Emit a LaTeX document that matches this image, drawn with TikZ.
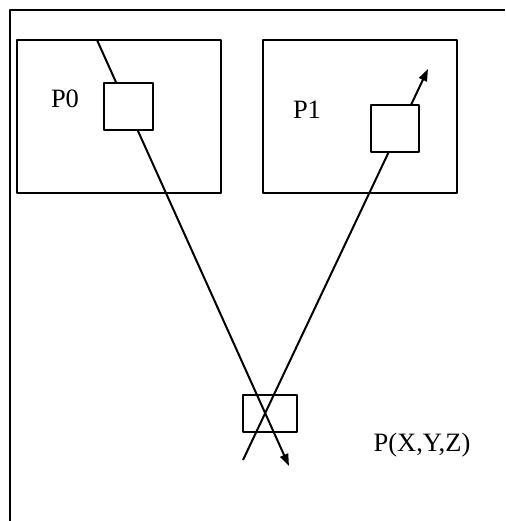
\documentclass[tikz,border=0pt]{standalone}
\usepackage{fontspec}
\setmainfont{Liberation Serif}
\usepackage{tikz}
\usetikzlibrary{arrows.meta}

\begin{document}
\begin{tikzpicture}[x=1pt,y=-1pt,>={Triangle[length=12pt,width=8.5pt]},line join=round,
  frame/.style={draw,line width=1.3pt,inner sep=0pt,outer sep=0pt},
  pixbox/.style={frame,fill=white},
  ray/.style={->,line width=2pt},
  lbl/.style={inner sep=0pt,font=\fontsize{26.5}{30}\selectfont}]
  \useasboundingbox (0,0) rectangle (505,521);
  % outer border, only left and top visible
  \coordinate (BL) at (10,521);
  \coordinate (TL) at (10,10);
  \coordinate (TR) at (505,10);
  \draw[line width=2pt] (BL) -- (TL) -- (TR);
  % image planes
  \node[frame,minimum width=204pt,minimum height=153pt] (P0box) at (119,116.5) {};
  \node[frame,minimum width=194pt,minimum height=153pt] (P1box) at (360,116.5) {};
  % rays
  \coordinate (R0a) at (97,40);
  \coordinate (R0b) at (289,466);
  \coordinate (R1a) at (243,460);
  \coordinate (R1b) at (428,69);
  \draw[ray] (R0a) -- (R0b);
  \draw[ray] (R1a) -- (R1b);
  % pixels
  \node[pixbox,minimum width=49pt,minimum height=47pt] (pix0) at (128.5,106.5) {};
  \node[pixbox,minimum width=48pt,minimum height=47pt] (pix1) at (395,128.5) {};
  \node[frame,minimum width=54pt,minimum height=37pt] (pt) at (270,413.5) {};
  % labels
  \node[lbl] (lP0) at (65,99) {P0};
  \node[lbl] (lP1) at (307,110) {P1};
  \node[lbl] (lP) at (422,445) {P(X,Y,Z)};
\end{tikzpicture}
\end{document}
